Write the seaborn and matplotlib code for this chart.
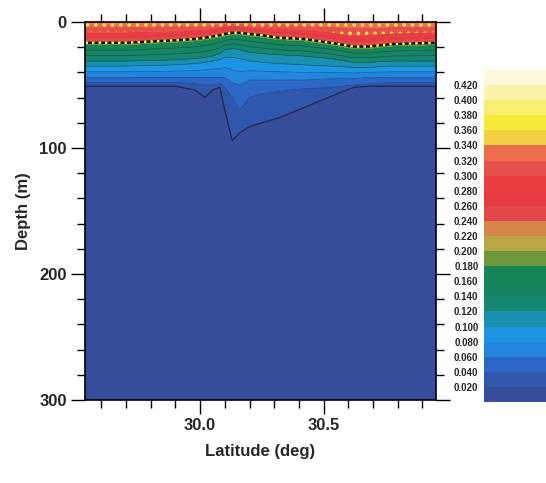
import numpy as np
import matplotlib
matplotlib.use("Agg")
import matplotlib.pyplot as plt
import seaborn as sns

# ---- data ----
# station latitudes (deg)
station_lat = [29.53, 29.70, 29.90, 29.98, 30.02, 30.05, 30.08, 30.10, 30.13,
               30.16, 30.20, 30.25, 30.32, 30.42, 30.53, 30.62, 30.68, 30.78, 30.96]
# value carried by each isoline row (surface ... bottom)
node_values = [0.335, 0.30, 0.24, 0.18, 0.12, 0.10, 0.06, 0.04, 0.02, 0.005]
# depth (m) of each isoline at every station
depth_surface = [0] * 19
depth_030 = [8, 8, 7, 6, 6, 5, 4, 3, 3, 3, 4, 5, 5, 6, 8, 11, 10, 9, 8]
depth_024 = [15, 15, 13, 12, 11, 10, 9, 8, 7, 7, 8, 9, 11, 12, 15, 18, 18, 16, 15]
depth_018 = [18, 18, 16, 15, 14, 13, 12, 11, 10, 10, 11, 12, 14, 15, 18, 21, 21, 19, 18]
depth_012 = [31, 31, 30, 29, 28, 27, 25, 22, 21, 22, 24, 25, 26, 27, 29, 32, 32, 31, 31]
depth_010 = [35, 35, 34, 33, 32, 31, 30, 28, 28, 29, 31, 32, 33, 34, 35, 36, 36, 35, 35]
depth_006 = [44, 44, 44, 44, 44, 44, 44, 44, 48, 50, 46, 46, 46, 46, 45, 45, 44, 44, 44]
depth_004 = [48, 48, 48, 49, 50, 50, 49, 52, 60, 70, 60, 57, 55, 53, 52, 50, 49, 48, 48]
depth_002 = [51, 51, 51, 54, 60, 54, 52, 70, 94, 88, 83, 80, 76, 68, 59, 52, 51, 51, 51]
depth_bottom = [300] * 19

levels = [round(0.02 * i, 2) for i in range(23)]          # 0.00 ... 0.44
cbar_ticks = [round(0.02 * i, 2) for i in range(1, 22)]   # 0.020 ... 0.420
x_major = [30.0, 30.5]
x_minor = [round(29.6 + 0.1 * i, 1) for i in range(14)]
y_major = [0, 100, 200, 300]
y_minor = list(range(0, 301, 20))

band_colors = ["#384c9c", "#3157ad", "#2b68c6", "#2386dd", "#1e95e3", "#1a8fb0",
               "#15876f", "#158560", "#168656", "#6e9a3c", "#b9a646", "#d8874a",
               "#e2474a", "#e63a42", "#e93d44", "#e5504a", "#ec6e4a", "#f3d040",
               "#f6ea3a", "#f8ef72", "#fbf4a8", "#fdf9dc"]

# ---- build the curvilinear grid from the tables ----
depth_rows = [depth_surface, depth_030, depth_024, depth_018, depth_012,
              depth_010, depth_006, depth_004, depth_002, depth_bottom]
Y = np.array(depth_rows, dtype=float)
X = np.tile(np.array(station_lat), (len(depth_rows), 1))
Z = np.tile(np.array(node_values)[:, None], (1, len(station_lat)))

sns.set_theme(style="ticks")
plt.rcParams["font.family"] = ["Liberation Sans", "DejaVu Sans"]
plt.rcParams["hatch.color"] = "#f3e54e"
plt.rcParams["hatch.linewidth"] = 1.4

fig = plt.figure(figsize=(5.46, 4.83), dpi=100)
ax = fig.add_axes([85 / 546, 1 - 400 / 483, 351 / 546, 378 / 483])

cs = ax.contourf(X, Y, Z, levels=levels, colors=band_colors)
hs = ax.contourf(X, Y, Z, levels=[0.30, 0.44], colors="none", hatches=[".."])
hs.set_edgecolor("#f3e54e")
hs.set_linewidth(0)
ax.contour(X, Y, Z, levels=[0.04, 0.06, 0.08, 0.10, 0.12, 0.14, 0.16],
           colors="#1c2a5a", linewidths=0.5, alpha=0.55)
ax.contour(X, Y, Z, levels=[0.02], colors="#1e2540", linewidths=1.0, alpha=0.85)
ax.contour(X, Y, Z, levels=[0.21], colors="#101010", linewidths=1.8)
ax.contour(X, Y, Z, levels=[0.21], colors="#f4ee60", linewidths=1.8,
           linestyles=[(0, (1, 1.6))])

ax.set_xlim(29.534, 30.955)
ax.set_ylim(300, 0)
ax.set_xticks(x_major)
ax.set_xticks(x_minor, minor=True)
ax.set_xticklabels([f"{v:.1f}" for v in x_major])
ax.set_yticks(y_major)
ax.set_yticks(y_minor, minor=True)
ax.tick_params(which="both", direction="out", top=True, right=True, color="black",
               width=1.0, labelsize=12, pad=3)
ax.tick_params(which="major", length=10)
ax.tick_params(which="minor", length=5.5)
for lab in ax.get_xticklabels() + ax.get_yticklabels():
    lab.set_fontweight("bold")
for s in ax.spines.values():
    s.set_linewidth(1.2)
    s.set_color("black")
ax.set_xlabel("Latitude (deg)", fontsize=12, fontweight="bold", labelpad=8)
ax.set_ylabel("Depth (m)", fontsize=12, fontweight="bold", labelpad=6)

# colour bar
cax = fig.add_axes([484 / 546, 1 - 402 / 483, 0.2, 332 / 483])
cb = fig.colorbar(cs, cax=cax, ticks=cbar_ticks)
cb.outline.set_visible(False)
cax.yaxis.set_ticks_position("left")
cax.yaxis.set_label_position("left")
cax.set_yticklabels([f"{t:.3f}" for t in cbar_ticks])
cax.tick_params(length=0, labelsize=7, pad=4)
for lab in cax.get_yticklabels():
    lab.set_fontweight("bold")

fig.savefig("out.png", dpi=100)
